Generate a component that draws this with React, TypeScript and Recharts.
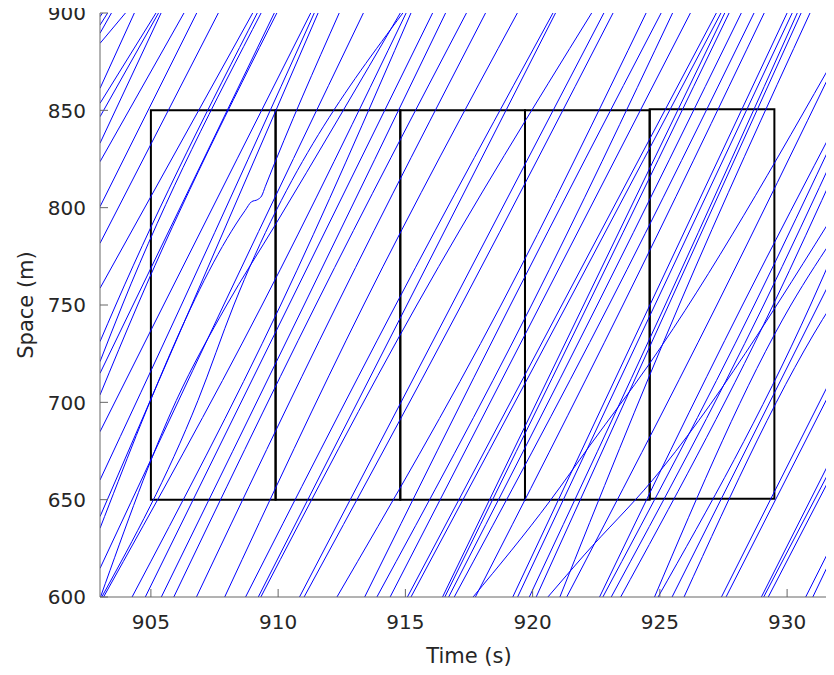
import React from 'react';
import { LineChart, Line, XAxis, YAxis, ReferenceArea, Label } from 'recharts';

// Axis ranges and ticks
const timeRange = [903, 932];
const spaceRange = [600, 900];
const timeTicks = [905, 910, 915, 920, 925, 930];
const spaceTicks = [600, 650, 700, 750, 800, 850, 900];
const midSpace = 750;

// Observation windows (time span x space span)
const windowStart = [905, 909.9, 914.8, 919.7, 924.6];
const windowEnd = [909.9, 914.8, 919.7, 924.6, 929.5];
const windowLow = [650, 650, 650, 650, 650.5];
const windowHigh = [850, 850, 850, 850, 850.5];

// Vehicles already on the section at t = 903 s: position then, time at 750 m, time at 900 m
const leftEntrySpace = [898.1, 893.8, 889.6, 884.4, 861.3, 853.6, 846.7, 833.1, 823.6, 800.5, 781.7, 758.6, 731.2, 720.9, 714.9, 703.8, 684.9, 660.1, 641.3, 614.7];
const leftMidTime = [null, null, null, null, null, null, null, null, null, null, null, null, 903.62, 903.88, null, 904.48, 905.5, 906.2, null, 907.86];
const leftExitTime = [903.1, 903.3, 903.45, 904.0, 904.35, 905.2, 905.3, 905.4, 906.3, 906.8, 907.65, 909.0, 909.18, 909.33, 909.85, 909.95, 911.28, 911.42, 911.57, 913.35];

// Vehicles passing 600 m that reach 900 m before 932 s
const bottomEntryTime = [903.14, 904.26, 904.78, 905.41, 905.9, 906.79, 907.9, 908.72, 909.22, 909.32, 910.84, 911.02, 912.31, 913.4, 913.88, 914.4, 915.08, 915.22, 916.46, 916.55, 916.7, 916.92, 917.75, 919.22, 919.41, 919.87, 920.14, 921.07];
const bottomMidTime = [909.37, 910.1, null, 911.02, 911.48, 912.31, 913.36, 914.62, null, 915.45, null, 917.2, 918.76, 919.13, 919.96, null, null, 921.34, null, 922.17, 922.54, 923.0, 923.55, null, null, 925.21, null, 925.76];
const bottomExitTime = [915.03, 915.22, 916.07, 916.58, 917.4, 918.15, 919.4, 920.8, 920.9, 922.32, 922.8, 923.16, 924.46, 925.05, 925.5, 926.2, 927.22, 927.4, 927.55, 927.72, 928.2, 928.7, 929.1, 930.0, 930.2, 930.4, 930.55, 930.9];

// Vehicles passing 600 m late, still on the section at 932 s (position then)
const rightEntryTime = [921.34, 922.63, 922.76, 923.09, 923.46, 924.79, 924.93, 925.48, 925.95, 927.42, 927.6, 928.99, 929.08, 929.26, 930.73, 931.01, 931.66];
const rightMidTime = [927.24, 928.25, 928.71, 929.08, 929.45, 930.15, 930.92, null, 931.75, null, null, null, null, null, null, null, null];
const rightExitSpace = [877, 845, 840, 831, 822, 788, 782, 770, 755, 719, 713, 678, 673, 669, 633, 627, 609];

// Trajectories with visible speed changes: [time, space]
const stopAndGoTrack = [[903, 635.3], [908.7, 798.5], [908.95, 803], [909.2, 804.2], [909.35, 806], [909.5, 811], [912.4, 900]];
const cornerTrackA = [[903.02, 600], [906.0, 701], [907.98, 750], [909.88, 791], [914.8, 900]];
const cornerTrackB = [[903.07, 600], [906.85, 701], [908.26, 750], [914.9, 900]];
const slowTrackA = [[917.66, 600], [920.69, 649.5], [922.26, 678], [924.6, 720], [932, 880]];
const slowTrackB = [[920.6, 600], [922.03, 621.6], [924.71, 660], [932, 800]];

type Pt = { t: number; s: number };

const tracks: Pt[][] = [];
leftEntrySpace.forEach((s0, i) => {
  const pts: Pt[] = [{ t: timeRange[0], s: s0 }];
  if (leftMidTime[i] != null) pts.push({ t: leftMidTime[i] as number, s: midSpace });
  pts.push({ t: leftExitTime[i], s: spaceRange[1] });
  tracks.push(pts);
});
bottomEntryTime.forEach((t0, i) => {
  const pts: Pt[] = [{ t: t0, s: spaceRange[0] }];
  if (bottomMidTime[i] != null) pts.push({ t: bottomMidTime[i] as number, s: midSpace });
  pts.push({ t: bottomExitTime[i], s: spaceRange[1] });
  tracks.push(pts);
});
rightEntryTime.forEach((t0, i) => {
  const pts: Pt[] = [{ t: t0, s: spaceRange[0] }];
  if (rightMidTime[i] != null) pts.push({ t: rightMidTime[i] as number, s: midSpace });
  pts.push({ t: timeRange[1], s: rightExitSpace[i] });
  tracks.push(pts);
});
[stopAndGoTrack, cornerTrackA, cornerTrackB, slowTrackA, slowTrackB].forEach((tr) => {
  tracks.push(tr.map(([t, s]) => ({ t, s })));
});

const AXIS = '#666666';
const TEXT = '#262626';
const FONT = '"DejaVu Sans", Verdana, sans-serif';
const TICK_FONT = 20;
const LABEL_FONT = 21;
const TICK_LEN = 8;

const BottomTick = (props: any) => {
  const { x, y, payload } = props;
  return (
    <g>
      <line x1={x} y1={y} x2={x} y2={y - TICK_LEN} stroke={AXIS} strokeWidth={1} />
      <text x={x} y={y + 32} textAnchor="middle" fill={TEXT} fontSize={TICK_FONT} fontFamily={FONT}>
        {payload.value}
      </text>
    </g>
  );
};

const LeftTick = (props: any) => {
  const { x, y, payload } = props;
  return (
    <g>
      <line x1={x} y1={y} x2={x + TICK_LEN} y2={y} stroke={AXIS} strokeWidth={1} />
      <text x={x - 14} y={y} dy="0.36em" textAnchor="end" fill={TEXT} fontSize={TICK_FONT} fontFamily={FONT}>
        {payload.value}
      </text>
    </g>
  );
};

const TopTick = (props: any) => {
  const { x, y } = props;
  return <line x1={x} y1={y} x2={x} y2={y + TICK_LEN} stroke={AXIS} strokeWidth={1} />;
};

const RightTick = (props: any) => {
  const { x, y } = props;
  return <line x1={x} y1={y} x2={x - TICK_LEN} y2={y} stroke={AXIS} strokeWidth={1} />;
};

const TimeLabel = (props: any) => {
  const { viewBox } = props;
  const cx = viewBox.x + viewBox.width / 2;
  const cy = viewBox.y + 66;
  return (
    <text x={cx} y={cy} textAnchor="middle" fill={TEXT} fontSize={LABEL_FONT} fontFamily={FONT}>
      Time (s)
    </text>
  );
};

const SpaceLabel = (props: any) => {
  const { viewBox } = props;
  const cx = viewBox.x + 14;
  const cy = viewBox.y + viewBox.height / 2;
  return (
    <text
      x={cx}
      y={cy}
      transform={`rotate(-90 ${cx} ${cy})`}
      textAnchor="middle"
      dominantBaseline="central"
      fill={TEXT}
      fontSize={LABEL_FONT}
      fontFamily={FONT}
    >
      Space (m)
    </text>
  );
};

export default function App() {
  return (
    <div
      style={{
        width: 834,
        height: 675,
        overflow: 'hidden',
        marginTop: -8,
        marginLeft: -8,
        marginBottom: -8,
      }}
    >
      <LineChart width={838} height={675} margin={{ top: 13, right: 0, bottom: 0, left: 12 }}>
        <XAxis
          xAxisId={0}
          type="number"
          dataKey="t"
          domain={timeRange}
          ticks={timeTicks}
          allowDataOverflow
          height={78}
          tickSize={0}
          tickMargin={0}
          tickLine={false}
          tick={<BottomTick />}
          axisLine={{ stroke: AXIS, strokeWidth: 1 }}
          interval={0}
        >
          <Label content={<TimeLabel />} />
        </XAxis>
        <XAxis
          xAxisId="top"
          orientation="top"
          type="number"
          domain={timeRange}
          ticks={timeTicks}
          allowDataOverflow
          height={0}
          tickSize={0}
          tickMargin={0}
          tickLine={false}
          tick={<TopTick />}
          axisLine={{ stroke: AXIS, strokeWidth: 1 }}
          interval={0}
        />
        <YAxis
          yAxisId={0}
          type="number"
          domain={spaceRange}
          ticks={spaceTicks}
          allowDataOverflow
          width={88}
          tickSize={0}
          tickMargin={0}
          tickLine={false}
          tick={<LeftTick />}
          axisLine={{ stroke: AXIS, strokeWidth: 1 }}
          interval={0}
        >
          <Label content={<SpaceLabel />} />
        </YAxis>
        <YAxis
          yAxisId="right"
          orientation="right"
          type="number"
          domain={spaceRange}
          ticks={spaceTicks}
          allowDataOverflow
          width={0}
          tickSize={0}
          tickMargin={0}
          tickLine={false}
          tick={<RightTick />}
          axisLine={{ stroke: AXIS, strokeWidth: 1 }}
          interval={0}
        />
        {tracks.map((d, i) => (
          <Line
            key={`trk-${i}`}
            data={d}
            dataKey="s"
            type="monotoneX"
            stroke="#0000ff"
            strokeWidth={1}
            dot={false}
            activeDot={false}
            isAnimationActive={false}
            legendType="none"
          />
        ))}
        {windowStart.map((x1, i) => (
          <ReferenceArea
            key={`win-${i}`}
            x1={x1}
            x2={windowEnd[i]}
            y1={windowLow[i]}
            y2={windowHigh[i]}
            fill="none"
            fillOpacity={0}
            stroke="#000000"
            strokeWidth={2}
            ifOverflow="visible"
          />
        ))}
      </LineChart>
    </div>
  );
}
